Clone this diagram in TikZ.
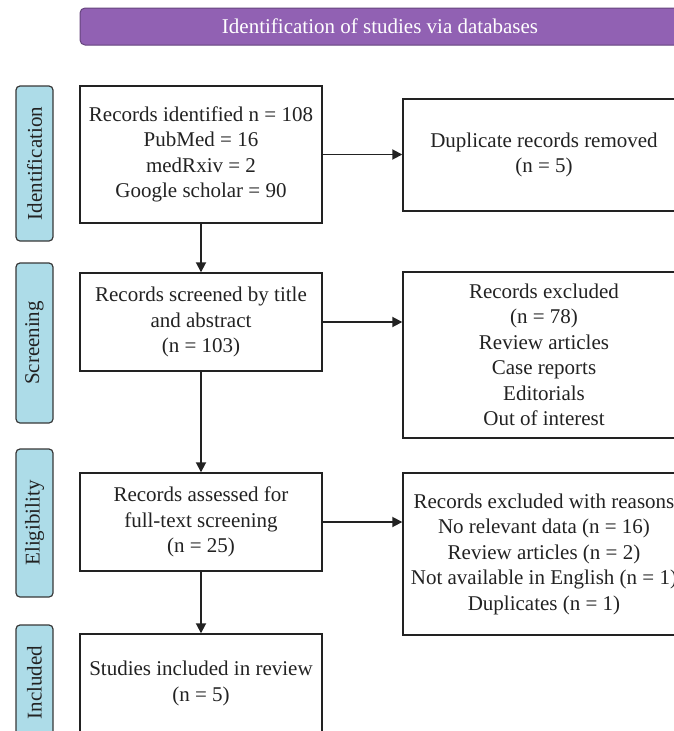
\documentclass[tikz,border=0pt]{standalone}
\usepackage{fontspec}
\setmainfont{Liberation Serif}
\usetikzlibrary{arrows.meta}
\definecolor{hdrpurple}{HTML}{9161B3}
\definecolor{lblblue}{HTML}{ADDCE8}
\definecolor{lnc}{HTML}{222222}
\tikzset{
  box/.style={draw=lnc, line width=1.4pt, rectangle, inner sep=0pt, align=center,
    font=\fontsize{21}{25.5}\selectfont, text=lnc},
  lbl/.style={draw=lnc!90, fill=lblblue, line width=1.2pt, rounded corners=4pt, rectangle,
    inner sep=0pt, minimum width=37pt, font=\fontsize{21}{25}\selectfont, text=lnc},
  conn/.style={draw=lnc, line width=1.8pt, -{Triangle[length=10pt,width=10pt]}}
}
\begin{document}
\begin{tikzpicture}[x=1pt,y=-1pt]
\useasboundingbox (0,0) rectangle (674,731);
\clip (0,0) rectangle (674,731);
% header
\node[draw=hdrpurple!70!black, fill=hdrpurple, line width=1pt, rounded corners=5pt,
  minimum width=600pt, minimum height=37pt, inner sep=0pt, text=white,
  font=\fontsize{21}{25}\selectfont] (hdr) at (380,26.5) {Identification of studies via databases};
% phase labels
\node[lbl, minimum height=155pt] (lid) at (34.5,163.5) {\rotatebox{90}{Identification}};
\node[lbl, minimum height=160pt] (lsc) at (34.5,343) {\rotatebox{90}{Screening}};
\node[lbl, minimum height=148pt] (lel) at (34.5,523) {\rotatebox{90}{Eligibility}};
\node[lbl, minimum height=115pt] (lin) at (34.5,682.5) {\rotatebox{90}{Included}};
% left boxes
\node[box, minimum width=242pt, minimum height=137pt] (b1) at (201,154.5)
  {Records identified n = 108\\PubMed = 16\\medRxiv = 2\\Google scholar = 90};
\node[box, minimum width=242pt, minimum height=98pt] (b2) at (201,322)
  {Records screened by title\\and abstract\\(n = 103)};
\node[box, minimum width=242pt, minimum height=98pt] (b3) at (201,522)
  {Records assessed for\\full-text screening\\(n = 25)};
\node[box, minimum width=242pt, minimum height=99pt] (b4) at (201,683.5)
  {Studies included in review\\(n = 5)};
% right boxes
\node[box, minimum width=282pt, minimum height=112pt] (r1) at (544,155)
  {Duplicate records removed\\(n = 5)};
\node[box, minimum width=282pt, minimum height=166pt] (r2) at (544,355)
  {Records excluded\\(n = 78)\\Review articles\\Case reports\\Editorials\\Out of interest};
\node[box, minimum width=282pt, minimum height=162pt] (r3) at (544,554)
  {Records excluded with reasons\\No relevant data (n = 16)\\Review articles (n = 2)\\Not available in English (n = 1)\\Duplicates (n = 1)};
% connectors
\draw[conn] (b1.east) -- (b1.east -| r1.west);
\draw[conn] (b2.east) -- (b2.east -| r2.west);
\draw[conn] (b3.east) -- (b3.east -| r3.west);
\draw[conn] (b1.south) -- (b2.north);
\draw[conn] (b2.south) -- (b3.north);
\draw[conn] (b3.south) -- (b4.north);
\end{tikzpicture}
\end{document}
